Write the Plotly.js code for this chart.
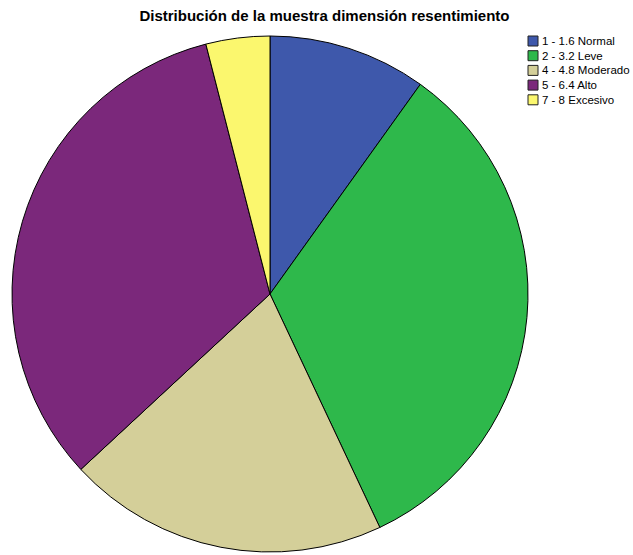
<!DOCTYPE html>
<html>
<head>
<meta charset="utf-8">
<script src="https://cdn.plot.ly/plotly-3.0.1.min.js"></script>
<style>html,body{margin:0;padding:0;background:#fff;}#chart{width:633px;height:555px;}</style>
</head>
<body>
<div id="chart"></div>
<script>
const categories = ["1 - 1.6 Normal", "2 - 3.2 Leve", "4 - 4.8 Moderado", "5 - 6.4 Alto", "7 - 8 Excesivo"];
const percents = [9.9, 33.1, 20.1, 32.9, 4.0];
const colors = ["#3e58ab", "#2eb84b", "#d4cf99", "#7b287b", "#fbf76e"];
const titleText = "Distribución de la muestra dimensión resentimiento";

const W = 633, H = 555;
const cx = 270, cy = 294, R = 258;
const trace = {
  type: "pie",
  labels: categories,
  values: percents,
  sort: false,
  direction: "clockwise",
  rotation: 0,
  textinfo: "none",
  hoverinfo: "label+percent",
  marker: {colors: colors, line: {color: "#000", width: 1}},
  domain: {x: [(cx - R) / W, (cx + R) / W], y: [1 - (cy + R) / H, 1 - (cy - R) / H]},
  showlegend: false
};

const shapes = [], annotations = [];
const legX = 528, legY0 = 36, legStep = 14.7, box = 10;
categories.forEach((c, i) => {
  const top = legY0 + i * legStep;
  shapes.push({type: "rect", xref: "paper", yref: "paper",
    x0: legX / W, x1: (legX + box) / W, y0: 1 - (top + box) / H, y1: 1 - top / H,
    fillcolor: colors[i], line: {color: "#222", width: 1}});
  annotations.push({xref: "paper", yref: "paper", x: (legX + box + 2) / W, y: 1 - (top + box / 2) / H,
    xanchor: "left", yanchor: "middle", showarrow: false, text: c,
    font: {family: "Liberation Sans, Arial, sans-serif", size: 11.5, color: "#000"}});
});

const layout = {
  width: W, height: H,
  margin: {l: 0, r: 0, t: 0, b: 0},
  paper_bgcolor: "#fff",
  title: {text: "<b>" + titleText + "</b>", x: 0.5126, xanchor: "center", xref: "container",
    y: 1 - 16 / H, yanchor: "middle", yref: "container",
    font: {family: "Liberation Sans, Arial, sans-serif", size: 15, color: "#000"}},
  shapes: shapes,
  annotations: annotations,
  showlegend: false
};

Plotly.newPlot("chart", [trace], layout, {displayModeBar: false, staticPlot: true});
</script>
</body>
</html>
